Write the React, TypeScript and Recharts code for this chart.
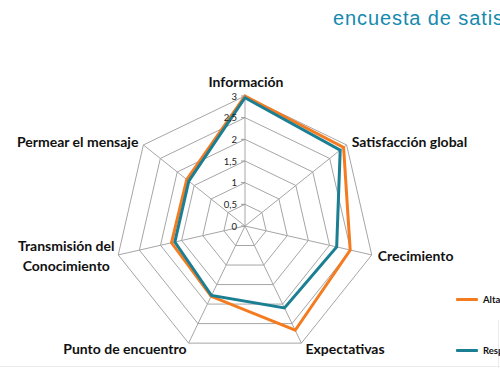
import React from 'react';
import { RadarChart, PolarGrid, PolarAngleAxis, PolarRadiusAxis, Radar, Legend } from 'recharts';

const categories = [
  'Información',
  'Satisfacción global',
  'Crecimiento',
  'Expectativas',
  'Punto de encuentro',
  'Transmisión del Conocimiento',
  'Permear el mensaje',
];
const altaValues = [3.0, 2.91, 2.49, 2.67, 1.8, 1.74, 1.72];
const respValues = [2.96, 2.81, 2.17, 2.1, 1.78, 1.66, 1.66];
const seriesNames = ['Alta dirección', 'Responsables'];
const radiusTicks = [0, 0.5, 1, 1.5, 2, 2.5, 3];

const data = categories.map((c, i) => ({ category: c, alta: altaValues[i], resp: respValues[i] }));

const ORANGE = '#F47B20';
const TEAL = '#1B7F93';
const FONT = 'Lato, "Open Sans", sans-serif';

// label offsets relative to each vertex (style only)
const labelStyle: Record<number, { dx: number; dy: number; anchor: string }> = {
  0: { dx: 1, dy: -15, anchor: 'middle' },
  1: { dx: 5, dy: -3, anchor: 'start' },
  2: { dx: 6, dy: 1, anchor: 'start' },
  3: { dx: 4, dy: 5, anchor: 'start' },
  4: { dx: -2, dy: 5, anchor: 'end' },
  5: { dx: -52, dy: 1, anchor: 'middle' },
  6: { dx: -5, dy: -3, anchor: 'end' },
};

const TICK_GAP = 8;

const AngleTick = (props: any) => {
  const { payload, index } = props;
  const n = categories.length;
  const a = ((90 - (index * 360) / n) * Math.PI) / 180;
  // bring recharts' tick anchor (radius + gap) back to the vertex
  const x = props.x - TICK_GAP * Math.cos(a);
  const y = props.y + TICK_GAP * Math.sin(a);
  const s = labelStyle[index] || { dx: 0, dy: 0, anchor: 'middle' };
  const value: string = payload.value;
  if (value === 'Transmisión del Conocimiento') {
    return (
      <text x={x + s.dx} y={y + s.dy} textAnchor="middle" fontFamily={FONT} fontWeight={700} fontSize={14} fill="#111">
        <tspan x={x + s.dx} dy={-10} dominantBaseline="central">Transmisión del</tspan>
        <tspan x={x + s.dx} dy={20} dominantBaseline="central">Conocimiento</tspan>
      </text>
    );
  }
  return (
    <text x={x + s.dx} y={y + s.dy} textAnchor={s.anchor as any} dominantBaseline="central" fontFamily={FONT} fontWeight={700} fontSize={14} fill="#111">
      {value}
    </text>
  );
};

const RadiusTick = (props: any) => {
  const { x, y, payload } = props;
  const label = String(payload.value).replace('.', ',');
  return (
    <g>
      <line x1={x - 4} y1={y} x2={x} y2={y} stroke="#999" strokeWidth={1} />
      <text x={x - 8} y={y} textAnchor="end" dominantBaseline="central" fontFamily={FONT} fontSize={9.5} fill="#222">
        {label}
      </text>
    </g>
  );
};

const LegendContent = () => {
  const items = [
    { name: seriesNames[0], color: ORANGE },
    { name: seriesNames[1], color: TEAL },
  ];
  return (
    <div style={{ position: 'relative', width: 200, height: 60 }}>
      {items.map((it, i) => (
        <div key={it.name} style={{ position: 'absolute', left: 0, top: i * 51, display: 'flex', alignItems: 'center', whiteSpace: 'nowrap' }}>
          <div style={{ width: 22, height: 3, background: it.color, borderRadius: 1 }} />
          <span style={{ marginLeft: 5, fontFamily: FONT, fontWeight: 700, fontSize: 9.5, color: '#111' }}>{it.name}</span>
        </div>
      ))}
    </div>
  );
};

export default function App() {
  return (
    <div style={{ position: 'absolute', left: 0, top: 0, width: 500, height: 368, overflow: 'hidden', background: '#fff' }}>
      <div style={{ position: 'absolute', left: 333, top: 7, fontFamily: '"Liberation Sans", Arial, sans-serif', fontSize: 20, letterSpacing: 0.9, color: '#1689AE', whiteSpace: 'nowrap' }}>
        encuesta de satisfacción
      </div>
      <div style={{ position: 'absolute', left: 0, top: 366, width: 500, height: 1, background: '#ececec' }} />
      <div style={{ position: 'absolute', left: 498, top: 320, width: 1, height: 48, background: '#ececec' }} />
      <RadarChart width={500} height={368} cx={245} cy={226} outerRadius={130} data={data} margin={{ top: 0, right: 0, bottom: 0, left: 0 }} style={{ position: 'absolute', left: 0, top: 0 }}>
        <PolarGrid gridType="polygon" stroke="#a6a6a6" strokeWidth={1} />
        <PolarAngleAxis dataKey="category" tick={<AngleTick />} tickLine={false} axisLine={false} />
        <PolarRadiusAxis angle={90} domain={[0, 3]} ticks={radiusTicks as any} tickCount={7} axisLine={false} tick={<RadiusTick />} />
        <Radar name={seriesNames[0]} dataKey="alta" stroke={ORANGE} strokeWidth={3} fill="none" fillOpacity={0} dot={false} isAnimationActive={false} />
        <Radar name={seriesNames[1]} dataKey="resp" stroke={TEAL} strokeWidth={3} fill="none" fillOpacity={0} dot={false} isAnimationActive={false} />
        <Legend content={<LegendContent />} wrapperStyle={{ position: 'absolute', left: 456, top: 294, width: 200 }} />
      </RadarChart>
    </div>
  );
}
